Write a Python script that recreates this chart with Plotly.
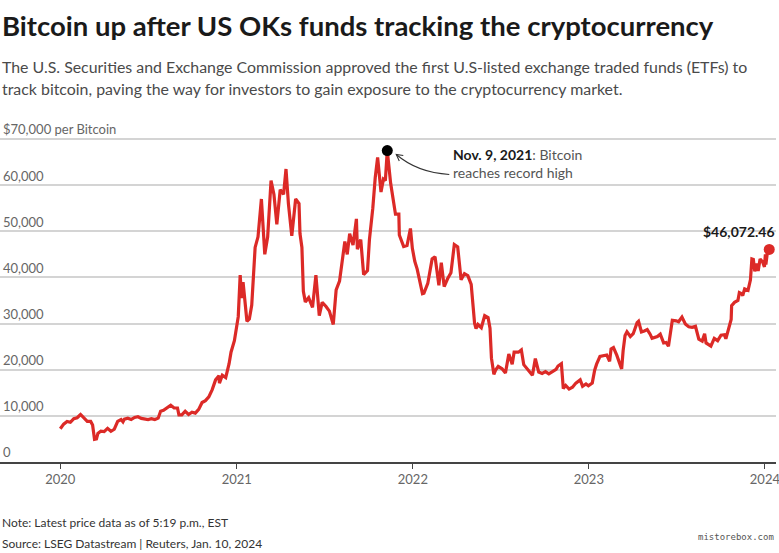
import plotly.graph_objects as go

# ---- data ----
dates = [
    "2020-01-01","2020-01-08","2020-01-15","2020-01-22","2020-01-29","2020-02-05","2020-02-12","2020-02-19",
    "2020-02-26","2020-03-04","2020-03-08","2020-03-12","2020-03-16","2020-03-19","2020-03-25","2020-04-01",
    "2020-04-08","2020-04-15","2020-04-22","2020-04-29","2020-05-06","2020-05-10","2020-05-13","2020-05-20",
    "2020-05-27","2020-06-03","2020-06-10","2020-06-17","2020-06-24","2020-07-01","2020-07-08","2020-07-15",
    "2020-07-22","2020-07-27","2020-08-02","2020-08-10","2020-08-17","2020-08-24","2020-08-31","2020-09-03",
    "2020-09-09","2020-09-16","2020-09-23","2020-09-30","2020-10-07","2020-10-14","2020-10-21","2020-10-28",
    "2020-11-04","2020-11-11","2020-11-18","2020-11-25","2020-11-26","2020-12-02","2020-12-09","2020-12-16",
    "2020-12-20","2020-12-27","2020-12-31",
    "2021-01-04","2021-01-08","2021-01-11","2021-01-14","2021-01-22","2021-01-27","2021-02-01","2021-02-08",
    "2021-02-14","2021-02-21","2021-02-28","2021-03-06","2021-03-13","2021-03-19","2021-03-25","2021-04-01",
    "2021-04-08","2021-04-13","2021-04-18","2021-04-25","2021-05-03","2021-05-10","2021-05-12","2021-05-16",
    "2021-05-19","2021-05-23","2021-05-30","2021-06-07","2021-06-14","2021-06-21","2021-06-27","2021-07-05",
    "2021-07-12","2021-07-20","2021-07-26","2021-08-02","2021-08-08","2021-08-13","2021-08-18","2021-08-23",
    "2021-08-30","2021-09-06","2021-09-08","2021-09-15","2021-09-21","2021-09-29","2021-10-03","2021-10-10",
    "2021-10-15","2021-10-20","2021-10-27","2021-11-01","2021-11-05","2021-11-09","2021-11-16","2021-11-19",
    "2021-11-26","2021-12-03","2021-12-04","2021-12-13","2021-12-20","2021-12-27","2021-12-31",
    "2022-01-05","2022-01-10","2022-01-21","2022-01-24","2022-02-01","2022-02-10","2022-02-16","2022-02-24",
    "2022-03-01","2022-03-07","2022-03-14","2022-03-21","2022-03-28","2022-04-04","2022-04-11","2022-04-18",
    "2022-04-25","2022-05-02","2022-05-09","2022-05-12","2022-05-16","2022-05-23","2022-05-30","2022-06-06",
    "2022-06-10","2022-06-13","2022-06-18","2022-06-22","2022-06-27","2022-07-05","2022-07-12","2022-07-19",
    "2022-07-26","2022-07-30","2022-08-08","2022-08-14","2022-08-19","2022-08-26","2022-09-06","2022-09-12",
    "2022-09-19","2022-09-26","2022-10-03","2022-10-10","2022-10-17","2022-10-25","2022-10-29","2022-11-05",
    "2022-11-09","2022-11-14","2022-11-21","2022-11-28","2022-12-05","2022-12-14","2022-12-19","2022-12-26",
    "2022-12-31",
    "2023-01-08","2023-01-13","2023-01-17","2023-01-24","2023-01-31","2023-02-07","2023-02-13","2023-02-16",
    "2023-02-21","2023-02-28","2023-03-09","2023-03-10","2023-03-13","2023-03-17","2023-03-21","2023-03-28",
    "2023-04-03","2023-04-11","2023-04-14","2023-04-20","2023-04-26","2023-05-02","2023-05-08","2023-05-12",
    "2023-05-23","2023-05-29","2023-06-05","2023-06-10","2023-06-15","2023-06-20","2023-06-23","2023-07-01",
    "2023-07-06","2023-07-13","2023-07-20","2023-07-27","2023-08-03","2023-08-10","2023-08-17","2023-08-24",
    "2023-08-29","2023-09-01","2023-09-11","2023-09-18","2023-09-25","2023-10-02","2023-10-09","2023-10-12",
    "2023-10-16","2023-10-23","2023-10-24","2023-10-30","2023-11-06","2023-11-09","2023-11-13","2023-11-16",
    "2023-11-20","2023-11-27","2023-12-02","2023-12-05","2023-12-08","2023-12-11","2023-12-15","2023-12-18",
    "2023-12-22","2023-12-27","2023-12-31","2024-01-02","2024-01-03","2024-01-08","2024-01-09","2024-01-10",
]
prices = [
    7200,8200,8800,8600,9400,9600,10300,9600,
    8800,8800,8000,4900,5000,6200,6700,6600,
    7300,6650,7100,8800,9200,8700,9300,9500,
    9200,9650,9800,9450,9300,9200,9400,9200,
    9500,11000,11200,11900,12300,11700,11700,10200,
    10200,11000,10300,10800,10600,11400,12900,13300,
    14100,15700,17800,18700,17100,18800,18300,21300,
    23800,26300,29000,
    31500,40500,35500,39000,30500,31000,34000,46500,
    48800,57000,45000,48800,61000,58000,51500,59000,
    58000,63500,56000,49000,57000,56000,49500,46500,
    37000,34700,35600,33500,40500,31700,34600,33700,
    32700,29800,37300,39200,43800,47800,45000,49500,
    47000,52700,46100,48200,40600,41500,48200,55000,
    61600,66000,58500,61300,61000,67500,60400,58000,
    53700,53700,49200,46700,46900,50600,46300,
    43500,41800,36500,36600,38700,44000,44500,38300,
    43200,38000,39700,41000,47100,46600,39500,40800,
    40400,38500,30100,28900,29800,29100,31700,31300,
    29000,22500,19000,20000,20700,20200,19300,23400,
    21200,23800,23800,24300,21100,20200,18800,22400,
    19500,19200,19600,19100,19500,20100,20800,21300,
    15900,16600,15800,16200,17100,17800,16400,16900,
    16500,
    17100,19900,21200,22900,23100,23200,21800,24500,
    24800,23100,20400,20200,24100,27400,28200,27200,
    27800,30200,30500,28200,28400,28700,27700,26800,
    27200,27700,25800,25900,25100,28300,30700,30600,
    30400,31400,29900,29300,29200,29400,26600,26200,
    27800,25800,25100,26800,26300,27500,27600,26700,
    28500,30900,33900,34600,35000,36700,36500,36100,
    37500,37200,39500,44000,43900,41300,43000,41400,
    44000,43400,42300,45000,42800,47000,46100,46072.46,
]
year_ticks = ["2020-01-01", "2021-01-01", "2022-01-01", "2023-01-01", "2024-01-01"]
year_labels = ["2020", "2021", "2022", "2023", "2024"]
y_ticks = [0, 10000, 20000, 30000, 40000, 50000, 60000, 70000]
y_labels = ["0", "10,000", "20,000", "30,000", "40,000", "50,000", "60,000", "$70,000 per Bitcoin"]

RED = "#dc2a27"
FONT = "Lato"

peak_i = max(range(len(prices)), key=lambda i: prices[i])
peak_date, peak_val = dates[peak_i], prices[peak_i]
last_date, last_val = dates[-1], prices[-1]

fig = go.Figure()
fig.add_trace(go.Scatter(x=dates, y=prices, mode="lines",
                         line=dict(color=RED, width=3.2), hoverinfo="skip"))
fig.add_trace(go.Scatter(x=[last_date], y=[last_val], mode="markers",
                         marker=dict(color=RED, size=11), hoverinfo="skip"))
fig.add_trace(go.Scatter(x=[peak_date], y=[peak_val], mode="markers",
                         marker=dict(color="#000000", size=11), hoverinfo="skip"))

W, H = 779, 553
TOP, BOTTOM = 136, 462
ph = BOTTOM - TOP
def py(ypx):
    return (BOTTOM - ypx) / ph

annots = [
    dict(text="<b>Bitcoin up after US OKs funds tracking the cryptocurrency</b>",
         x=0, xref="paper", xanchor="left", y=py(26), yref="paper", yanchor="middle",
         showarrow=False, font=dict(family=FONT, size=27.5, color="#1a1a1a")),
    dict(text="The U.S. Securities and Exchange Commission approved the first U.S-listed exchange traded funds (ETFs) to",
         x=0, xref="paper", xanchor="left", y=py(67), yref="paper", yanchor="middle",
         showarrow=False, font=dict(family=FONT, size=15.9, color="#4a4a4a")),
    dict(text="track bitcoin, paving the way for investors to gain exposure to the cryptocurrency market.",
         x=0, xref="paper", xanchor="left", y=py(89), yref="paper", yanchor="middle",
         showarrow=False, font=dict(family=FONT, size=15.9, color="#4a4a4a")),
    dict(text="Note: Latest price data as of 5:19 p.m., EST",
         x=0, xref="paper", xanchor="left", y=py(522), yref="paper", yanchor="middle",
         showarrow=False, font=dict(family=FONT, size=12, color="#333333")),
    dict(text="Source: LSEG Datastream | Reuters, Jan. 10, 2024",
         x=0, xref="paper", xanchor="left", y=py(543), yref="paper", yanchor="middle",
         showarrow=False, font=dict(family=FONT, size=12, color="#333333")),
    dict(text="mistorebox.com",
         x=1, xref="paper", xanchor="right", y=py(537), yref="paper", yanchor="middle",
         showarrow=False, font=dict(family="DejaVu Sans Mono", size=9, color="#555555")),
    dict(text="<b style='color:#1a1a1a'>Nov. 9, 2021</b>: Bitcoin<br>reaches record high",
         x=peak_date, y=peak_val, xref="x", yref="y", xanchor="left", yanchor="middle",
         xshift=64, yshift=-13, align="left", showarrow=False,
         font=dict(family=FONT, size=14, color="#555555")),
    dict(text="<b>$46,072.46</b>",
         x=last_date, y=last_val, xref="x", yref="y", xanchor="right", yanchor="middle",
         xshift=8, yshift=18, showarrow=False,
         font=dict(family=FONT, size=14, color="#1a1a1a")),
]

shapes = [
    dict(type="path", xref="x", yref="y", xsizemode="pixel", ysizemode="pixel",
         xanchor=peak_date, yanchor=peak_val,
         path="M 62,-24 Q 30,-22 9,-4", line=dict(color="#333333", width=1.1)),
    dict(type="path", xref="x", yref="y", xsizemode="pixel", ysizemode="pixel",
         xanchor=peak_date, yanchor=peak_val,
         path="M 16,-5 L 9,-4 L 12,-10.5", line=dict(color="#333333", width=1.1)),
]

fig.update_layout(
    width=W, height=H,
    margin=dict(l=0, r=3, t=TOP, b=H - BOTTOM),
    paper_bgcolor="white", plot_bgcolor="white",
    showlegend=False,
    annotations=annots, shapes=shapes,
    font=dict(family=FONT, color="#666666"),
    xaxis=dict(type="date", range=["2019-08-29", "2024-01-24"],
               tickvals=year_ticks, ticktext=year_labels,
               showgrid=False, zeroline=False, ticklabeloverflow="allow",
               showline=True, linecolor="#444444", linewidth=1.5,
               ticks="outside", ticklen=5, tickcolor="#444444", tickwidth=1.3,
               tickfont=dict(family=FONT, size=13, color="#666666")),
    yaxis=dict(range=[0, 70650], tickvals=y_ticks, ticktext=y_labels,
               ticklabelposition="inside top", ticklabeloverflow="allow",
               showgrid=True, gridcolor="#d4d4d4", gridwidth=1.5, zeroline=False,
               showline=False, ticks="",
               tickfont=dict(family=FONT, size=13, color="#666666")),
)

fig.write_html("out.html")
